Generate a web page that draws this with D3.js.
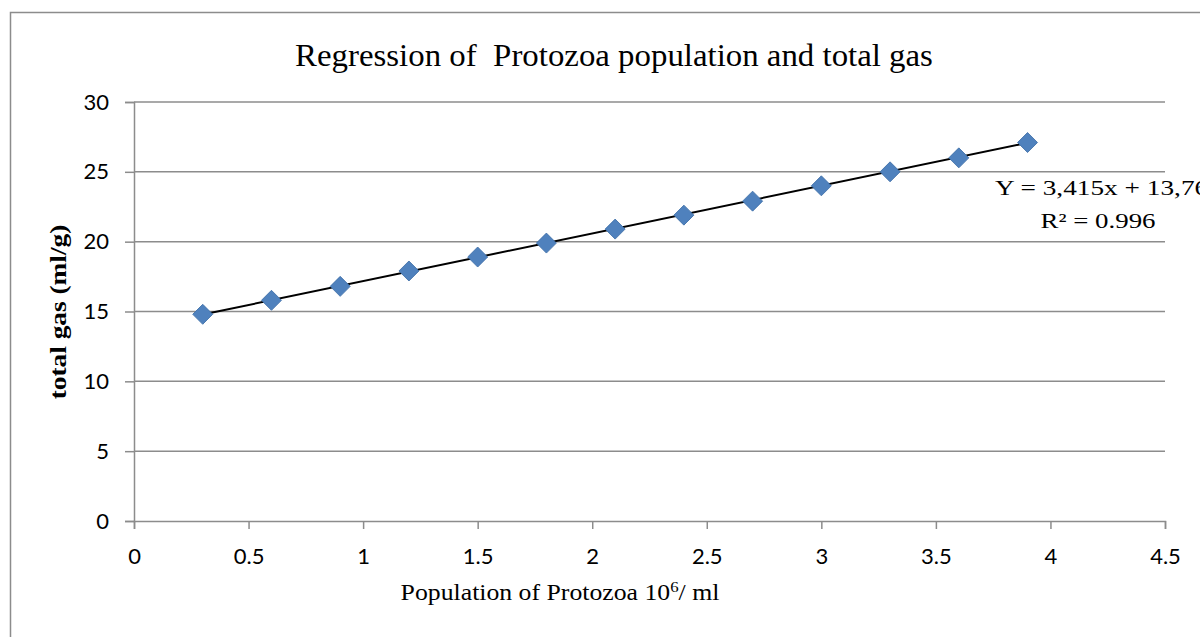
<!DOCTYPE html>
<html>
<head>
<meta charset="utf-8">
<script src="https://cdn.jsdelivr.net/npm/d3@7"></script>
<style>
  body { margin: 0; background: #fff; }
  svg { display: block; }
</style>
</head>
<body>
<div id="chart"></div>
<script>
var populations = [0.3, 0.6, 0.9, 1.2, 1.5, 1.8, 2.1, 2.4, 2.7, 3.0, 3.3, 3.6, 3.9];
var totalGas = [14.8, 15.8, 16.8, 17.9, 18.9, 19.9, 20.9, 21.9, 22.9, 24.0, 25.0, 26.0, 27.1];
var xTicks = [0, 0.5, 1, 1.5, 2, 2.5, 3, 3.5, 4, 4.5];
var yTicks = [0, 5, 10, 15, 20, 25, 30];
var slope = 3.415, intercept = 13.76;

var width = 1200, height = 637;
var serif = "'Liberation Serif', 'Times New Roman', serif";
var svg = d3.select("#chart").append("svg").attr("width", width).attr("height", height);

// chart frame (right and bottom edges fall outside the picture)
svg.append("rect").attr("x", 10.5).attr("y", 12.5).attr("width", 1300).attr("height", 700)
    .attr("fill", "none").attr("stroke", "#8c8c8c").attr("stroke-width", 1.5);

var x = d3.scaleLinear().domain([0, 4.5]).range([134, 1165]);
var y = d3.scaleLinear().domain([0, 30]).range([521, 102]);

// gridlines
svg.append("g").selectAll("line").data(yTicks.filter(function (d) { return d > 0; })).enter().append("line")
    .attr("x1", x(0)).attr("x2", x(4.5))
    .attr("y1", function (d) { return y(d); }).attr("y2", function (d) { return y(d); })
    .attr("stroke", "#8c8c8c").attr("stroke-width", 1.5);

// axes
var xAxis = svg.append("g").attr("transform", "translate(0," + y(0) + ")")
    .call(d3.axisBottom(x).tickValues(xTicks).tickSize(8).tickPadding(19).tickFormat(d3.format("")));
var yAxis = svg.append("g").attr("transform", "translate(" + x(0) + ",0)")
    .call(d3.axisLeft(y).tickValues(yTicks).tickSize(9).tickPadding(16));
[xAxis, yAxis].forEach(function (g) {
    g.select(".domain").attr("stroke", "#8c8c8c").attr("stroke-width", 1.5);
    g.selectAll(".tick line").attr("stroke", "#8c8c8c").attr("stroke-width", 1.5);
    g.selectAll(".tick text").attr("font-family", "Lato, 'Open Sans', sans-serif")
        .attr("font-size", 22).attr("fill", "#000");
});

// trendline
svg.append("line")
    .attr("x1", x(populations[0])).attr("y1", y(slope * populations[0] + intercept))
    .attr("x2", x(populations[populations.length - 1]))
    .attr("y2", y(slope * populations[populations.length - 1] + intercept))
    .attr("stroke", "#000").attr("stroke-width", 2);

// diamond markers
var diamond = d3.symbol().type(d3.symbolSquare).size(200);
svg.append("g").selectAll("path").data(populations).enter().append("path")
    .attr("d", diamond)
    .attr("transform", function (d, i) { return "translate(" + x(d) + "," + y(totalGas[i]) + ") rotate(45)"; })
    .attr("fill", "#4f81bd").attr("stroke", "#3f6fa8").attr("stroke-width", 0.8);

// text helper: the original text is a bit wider than the font gives, so stretch it
function label(cx, cy, sx, rot, size, weight, anchor) {
    return svg.append("g")
        .attr("transform", "translate(" + cx + "," + cy + ")" + (rot ? " rotate(" + rot + ")" : "") + " scale(" + sx + ",1)")
        .append("text").attr("text-anchor", anchor || "middle")
        .attr("font-family", serif).attr("font-size", size).attr("font-weight", weight || "normal");
}

// title
label(614, 66, 1.06, 0, 31).attr("xml:space", "preserve")
    .text("Regression of  Protozoa population and total gas");

// x axis title
var xl = label(560, 600, 1.12, 0, 23);
xl.append("tspan").text("Population of Protozoa 10");
xl.append("tspan").attr("dy", -8).attr("font-size", 15).text("6");
xl.append("tspan").attr("dy", 8).text("/ ml");

// y axis title
label(66, 312, 1.14, -90, 24, "bold").text("total gas (ml/g)");

// equation label
label(995, 195, 1.3, 0, 21, "normal", "start").text("Y = 3,415x + 13,76");
label(1098, 228, 1.28, 0, 21).text("R² = 0.996");
</script>
</body>
</html>
